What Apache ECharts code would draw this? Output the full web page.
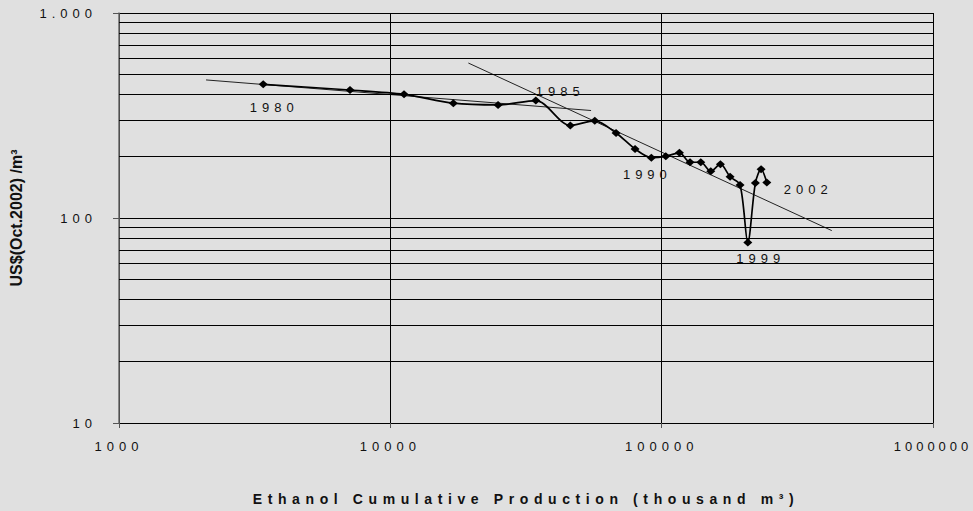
<!DOCTYPE html>
<html>
<head>
<meta charset="utf-8">
<script src="https://cdn.jsdelivr.net/npm/echarts@6/dist/echarts.min.js"></script>
<style>
  html, body { margin: 0; padding: 0; background: #e0e0e0; }
  #chart { width: 973px; height: 511px; }
  #chart svg text { letter-spacing: 5px; }
</style>
</head>
<body>
<div id="chart"></div>
<script>
// Brazilian ethanol: cumulative production vs. price (log-log learning curve)
const years = [1980, 1981, 1982, 1983, 1984, 1985, 1986, 1987, 1988, 1989, 1990, 1991,
  1992, 1993, 1994, 1995, 1996, 1997, 1998, 1999, 2000, 2001, 2002];
// cumulative production, thousand m3
const cumulativeProduction = [3400, 7100, 11230, 17070, 24950, 34360, 46060, 56680, 67910,
  79800, 91620, 103540, 116250, 127240, 139340, 151700, 164600, 178700, 194500, 207700,
  221500, 232500, 244100];
// price, US$(Oct.2002) per m3
const ethanolPrice = [449, 421, 401, 363, 356, 374, 283, 298, 260, 217, 197, 200, 208, 187,
  187, 169, 183, 159, 145, 76, 148, 173, 149];

// fitted power-law trends (straight on log-log axes), end points
const trendEarlyX = [2093, 54930];
const trendEarlyY = [471.5, 334.4];
const trendLateX = [19390, 423600];
const trendLateY = [570, 86.8];

// axis ticks
const xTickValues = [1000, 10000, 100000, 1000000];
const xTickLabels = ['1000', '10000', '100000', '1000000'];
const yTickValues = [10, 100, 1000];
const yTickLabels = ['10', '100', '1.000'];
// intermediate horizontal grid values inside each decade
const minorGridValues = [20, 30, 40, 50, 60, 70, 80, 90, 200, 300, 400, 500, 600, 700, 800, 900];

// years that carry a text label
const labeledYears = [1980, 1985, 1990, 1999, 2002];
// label placement around its point, in pixels
const yearLabelOffset = {
  1980: [11, 23.5], 1985: [24.5, -9.5], 1990: [-4, 17], 1999: [13, 16], 2002: [41.5, 7]
};

const FONT = 'Liberation Sans, Arial, Helvetica, sans-serif';
const INK = '#111';

function tickText(values, labels) {
  return function (v) {
    for (let i = 0; i < values.length; i++) {
      if (Math.abs(Math.log10(v) - Math.log10(values[i])) < 1e-6) return labels[i];
    }
    return '';
  };
}

const chart = echarts.init(document.getElementById('chart'), null, { renderer: 'svg' });

chart.setOption({
  animation: false,
  backgroundColor: '#e0e0e0',
  grid: { left: 119, right: 40, top: 13, bottom: 85 },
  xAxis: {
    type: 'log',
    logBase: 10,
    min: 1000,
    max: 1000000,
    name: 'Ethanol Cumulative Production (thousand m³)',
    nameLocation: 'middle',
    nameGap: 69,
    nameTextStyle: { color: INK, fontFamily: FONT, fontSize: 14, fontWeight: 'bold' },
    axisLine: { show: true, onZero: false, lineStyle: { color: '#000', width: 1 } },
    axisTick: { show: true, inside: false, length: 5, lineStyle: { color: '#555' } },
    axisLabel: {
      color: INK, fontFamily: FONT, fontSize: 13, margin: 17,
      formatter: tickText(xTickValues, xTickLabels)
    },
    splitLine: { show: true, lineStyle: { color: '#000', width: 1 } },
    minorTick: { show: false },
    minorSplitLine: { show: false }
  },
  yAxis: {
    type: 'log',
    logBase: 10,
    min: 10,
    max: 1000,
    name: 'US$(Oct.2002) /m³',
    nameLocation: 'middle',
    nameRotate: 90,
    nameGap: 95,
    nameTextStyle: { color: INK, fontFamily: FONT, fontSize: 16, fontWeight: 'bold' },
    axisLine: { show: true, lineStyle: { color: '#6a6a6a', width: 1.5 } },
    axisTick: { show: true, inside: false, length: 6, lineStyle: { color: '#555' } },
    axisLabel: {
      color: INK, fontFamily: FONT, fontSize: 13, margin: 22,
      formatter: tickText(yTickValues, yTickLabels)
    },
    splitLine: { show: true, lineStyle: { color: '#000', width: 1 } },
    minorTick: { show: false },
    minorSplitLine: { show: false }
  },
  series: [
    {
      name: 'grid',
      type: 'line',
      data: [],
      silent: true,
      markLine: {
        silent: true,
        symbol: 'none',
        label: { show: false },
        lineStyle: { color: '#000', width: 1, type: 'solid' },
        data: minorGridValues.map(v => ({ yAxis: v }))
      }
    },
    {
      name: 'trend 1980-1985',
      type: 'line',
      data: trendEarlyX.map((x, i) => [x, trendEarlyY[i]]),
      showSymbol: false,
      symbol: 'none',
      silent: true,
      lineStyle: { color: '#222', width: 1 },
      z: 3
    },
    {
      name: 'trend 1985-2002',
      type: 'line',
      data: trendLateX.map((x, i) => [x, trendLateY[i]]),
      showSymbol: false,
      symbol: 'none',
      silent: true,
      lineStyle: { color: '#222', width: 1 },
      z: 3
    },
    {
      name: 'price',
      type: 'line',
      data: years.map((yr, i) => [cumulativeProduction[i], ethanolPrice[i]]),
      smooth: 0.3,
      symbol: 'diamond',
      symbolSize: [9, 8],
      itemStyle: { color: '#000' },
      lineStyle: { color: '#000', width: 1.7 },
      z: 5
    }
  ]
});

// year annotations, placed through the chart's own axis scales
const yearTexts = labeledYears.map(yr => {
  const i = years.indexOf(yr);
  const p = chart.convertToPixel({ gridIndex: 0 }, [cumulativeProduction[i], ethanolPrice[i]]);
  const off = yearLabelOffset[yr];
  return {
    type: 'text',
    x: p[0] + off[0],
    y: p[1] + off[1],
    silent: true,
    z: 10,
    style: {
      text: String(yr),
      fill: INK,
      fontFamily: FONT,
      fontSize: 13,
      align: 'center',
      verticalAlign: 'middle'
    }
  };
});
chart.setOption({ graphic: { elements: yearTexts } });

// wide letter spacing on the texts, plain on the vertical axis title
function spaceTexts() {
  document.querySelectorAll('#chart svg text').forEach(t => {
    const s = t.textContent || '';
    if (s.indexOf('US$') === 0) t.style.letterSpacing = '0px';
    else if (s.indexOf('Ethanol') === 0) t.style.letterSpacing = '5.6px';
    else if (s === '1000000') t.style.letterSpacing = '4px';
  });
}
chart.on('finished', spaceTexts);
spaceTexts();
</script>
</body>
</html>
